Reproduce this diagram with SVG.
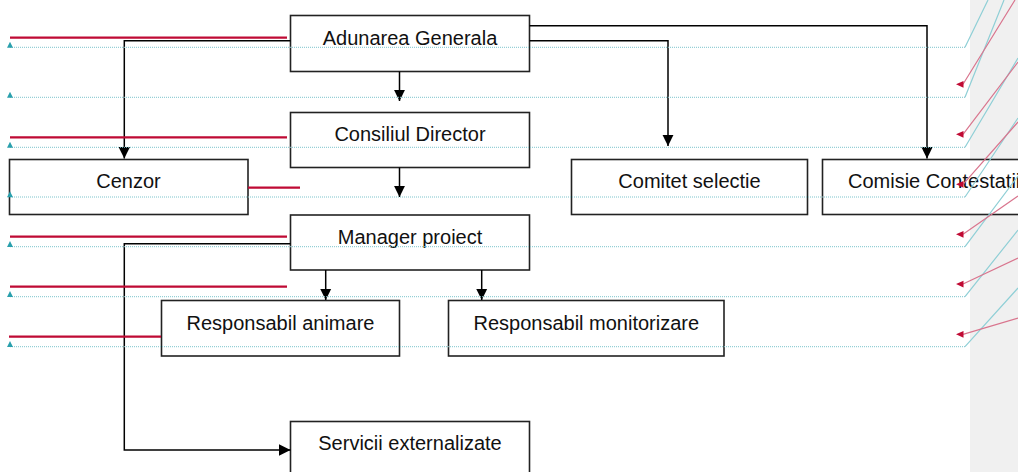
<svg xmlns="http://www.w3.org/2000/svg" width="1018" height="472" viewBox="0 0 1018 472">
<style>
.box{fill:#fff;stroke:#222;stroke-width:1.6}
.lbl{font-family:"Liberation Sans",Arial,sans-serif;font-size:20px;fill:#111;text-anchor:middle}
.con{fill:none;stroke:#000;stroke-width:1.5}
.dot{stroke:#7cc4cc;stroke-width:1;stroke-dasharray:1 1;fill:none}
.del{stroke:#bf0a34;stroke-width:2.2}
.tdiag{stroke:#8fcfd6;stroke-width:1.2;fill:none}
.rdiag{stroke:#d9758e;stroke-width:1.2;fill:none}
.tri{fill:#2aa0ad}
.rarr{fill:#c00a34}
</style>
<defs>
<marker id="ah" markerUnits="userSpaceOnUse" markerWidth="12" markerHeight="12" viewBox="0 0 12 12" refX="11.5" refY="6" orient="auto">
<path d="M0,0.3 L11.5,6 L0,11.7 Z" fill="#000"/>
</marker>
</defs>
<rect x="970" y="0" width="48" height="472" fill="#f0f0f0"/>
<g id="node-adunarea"><rect class="box" x="290.5" y="15.5" width="239" height="56"/><text class="lbl" x="410" y="45">Adunarea Generala</text></g>
<g id="node-consiliul"><rect class="box" x="290.5" y="112.5" width="239" height="55"/><text class="lbl" x="410" y="141">Consiliul Director</text></g>
<g id="node-cenzor"><rect class="box" x="9.5" y="159.5" width="238.5" height="55"/><text class="lbl" x="128.5" y="188">Cenzor</text></g>
<g id="node-comitet"><rect class="box" x="571.5" y="159.5" width="236" height="55"/><text class="lbl" x="689.5" y="188">Comitet selectie</text></g>
<g id="node-comisie"><rect class="box" x="822.5" y="159.5" width="220" height="55"/><text class="lbl" x="848" y="188" style="text-anchor:start">Comisie Contestatii</text></g>
<g id="node-manager"><rect class="box" x="290.5" y="215" width="239" height="55"/><text class="lbl" x="410" y="243.5">Manager proiect</text></g>
<g id="node-animare"><rect class="box" x="161.5" y="300.5" width="238" height="55.5"/><text class="lbl" x="280.5" y="329.5">Responsabil animare</text></g>
<g id="node-monitorizare"><rect class="box" x="448.5" y="300.5" width="275.5" height="55.5"/><text class="lbl" x="586.3" y="329.5">Responsabil monitorizare</text></g>
<g id="node-servicii"><rect class="box" x="290.5" y="421.5" width="239" height="60"/><text class="lbl" x="410" y="450">Servicii externalizate</text></g>
<g id="connectors">
<path class="con" d="M290.5,40.7 H124.3 V158.5" marker-end="url(#ah)"/>
<path class="con" d="M399.5,71.5 V101" marker-end="url(#ah)"/>
<path class="con" d="M529.5,40.7 H668 V146" marker-end="url(#ah)"/>
<path class="con" d="M529.5,25.7 H927 V158.5" marker-end="url(#ah)"/>
<path class="con" d="M399.5,167.5 V197" marker-end="url(#ah)"/>
<path class="con" d="M325.7,270 V300" marker-end="url(#ah)"/>
<path class="con" d="M481.7,270 V300" marker-end="url(#ah)"/>
<path class="con" d="M290.5,243.7 H124.3 V450 H290.5" marker-end="url(#ah)"/>
</g>
<g id="markup">
<path class="dot" d="M10,47.3 H965 M10,97.3 H965 M10,147.3 H965 M10,197 H965 M10,246.7 H965 M10,296.7 H965 M10,346.7 H965"/>
<path class="tri" d="M10,41.7 L13,47.7 L7,47.7 Z M10,91.7 L13,97.7 L7,97.7 Z M10,141.7 L13,147.7 L7,147.7 Z M10,191.3 L13,197.3 L7,197.3 Z M10,241 L13,247 L7,247 Z M10,291 L13,297 L7,297 Z M10,341 L13,347 L7,347 Z"/>
<path class="del" d="M10,37.7 H287 M10,137.3 H287 M248,187.7 H300 M10,236.7 H287 M10,286.7 H287 M9,336.7 H161"/>
<path class="tdiag" d="M965,47.3 L988,0 M965,97.3 L1004,0 M965,147.3 L1018,58 M965,197 L1018,118 M965,246.7 L1018,176 M965,296.7 L1018,230 M965,346.7 L1018,288"/>
<path class="rdiag" d="M963,84.3 L1015,0 M963,134.3 L1018,62 M963,184.3 L1018,122 M963,234.3 L1018,196 M963,284 L1018,258 M963,334.3 L1018,318"/>
<path class="rarr" d="M956,84.3 L963.5,81 L963.5,87.7 Z M956,134.3 L963.5,131 L963.5,137.7 Z M956,184.3 L963.5,181 L963.5,187.7 Z M956,234.3 L963.5,231 L963.5,237.7 Z M956,284 L963.5,280.7 L963.5,287.4 Z M956,334.3 L963.5,331 L963.5,337.7 Z"/>
</g>
</svg>
